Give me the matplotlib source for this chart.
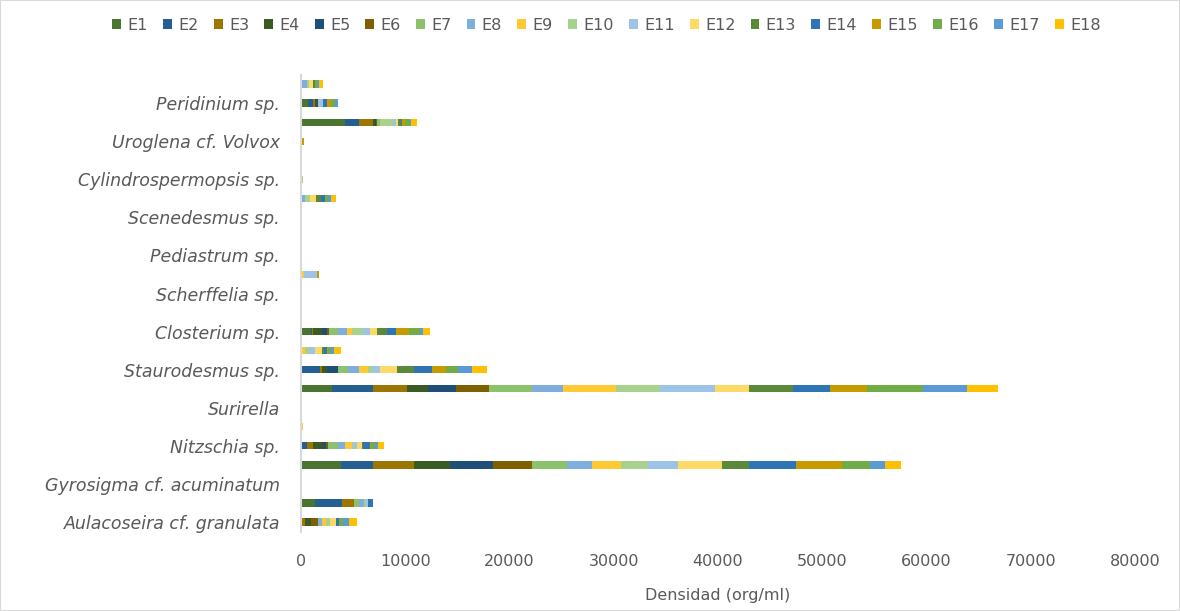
import numpy as np
import matplotlib.pyplot as plt
from matplotlib.patches import Rectangle

# categories from bottom to top; Excel only showed every other label
categories = ['Aulacoseira cf. granulata', '', 'Gyrosigma cf. acuminatum', '',
              'Nitzschia sp.', '', 'Surirella', '', 'Staurodesmus sp.', '',
              'Closterium sp.', '', 'Scherffelia sp.', '', 'Pediastrum sp.', '',
              'Scenedesmus sp.', '', 'Cylindrospermopsis sp.', '',
              'Uroglena cf. Volvox', '', 'Peridinium sp.', '']

series_names = ['E%d' % i for i in range(1, 19)]

E1 = [0, 1340, 0, 3840, 0, 0, 0, 3000, 0, 0, 960, 0, 0, 0, 0, 0, 0, 0, 0, 0, 0, 4220, 700, 0]
E2 = [0, 2560, 0, 3100, 600, 0, 0, 3930, 1820, 0, 90, 0, 0, 0, 0, 0, 0, 0, 0, 0, 0, 1340, 420, 0]
E3 = [380, 1180, 0, 3930, 580, 0, 0, 3260, 190, 150, 100, 0, 0, 0, 0, 0, 0, 0, 0, 0, 0, 1370, 220, 0]
E4 = [550, 0, 0, 3420, 900, 0, 0, 2010, 480, 0, 835, 0, 0, 0, 0, 0, 0, 0, 0, 0, 0, 170, 160, 0]
E5 = [0, 0, 0, 4100, 320, 0, 0, 2660, 1030, 0, 505, 0, 0, 0, 0, 0, 0, 0, 0, 0, 0, 90, 160, 0]
E6 = [730, 0, 0, 3770, 220, 0, 0, 3190, 30, 0, 225, 0, 0, 0, 0, 0, 0, 0, 0, 0, 0, 130, 0, 0]
E7 = [0, 510, 0, 3390, 960, 0, 0, 4070, 1000, 0, 860, 0, 0, 0, 0, 0, 0, 0, 0, 0, 0, 260, 0, 0]
E8 = [330, 450, 0, 2340, 640, 0, 0, 3030, 1010, 0, 865, 0, 0, 0, 0, 0, 0, 380, 0, 0, 0, 0, 0, 550]
E9 = [410, 0, 0, 2780, 640, 200, 0, 5050, 860, 230, 450, 0, 0, 250, 0, 0, 0, 0, 0, 0, 0, 0, 0, 0]
E10 = [380, 190, 0, 2590, 130, 0, 0, 4220, 510, 380, 1085, 0, 0, 0, 0, 0, 0, 480, 160, 0, 0, 1280, 0, 260]
E11 = [0, 220, 0, 2880, 350, 0, 0, 5280, 670, 600, 640, 0, 0, 1250, 0, 0, 0, 0, 0, 0, 0, 260, 420, 0]
E12 = [580, 0, 0, 4250, 510, 0, 0, 3260, 1570, 650, 700, 0, 0, 0, 0, 0, 0, 580, 0, 0, 0, 220, 0, 320]
E13 = [0, 0, 0, 2610, 125, 0, 0, 4190, 1660, 200, 960, 0, 0, 0, 0, 0, 0, 450, 0, 0, 0, 260, 0, 200]
E14 = [320, 480, 0, 4450, 640, 0, 0, 3580, 1700, 300, 865, 0, 0, 0, 0, 0, 0, 410, 0, 0, 0, 100, 440, 0]
E15 = [0, 0, 0, 4450, 100, 0, 0, 3580, 1410, 100, 1245, 0, 0, 250, 0, 0, 0, 0, 0, 0, 300, 290, 330, 0]
E16 = [380, 0, 0, 2680, 380, 0, 0, 5370, 1170, 250, 1025, 0, 0, 0, 0, 0, 0, 300, 0, 0, 0, 480, 410, 240]
E17 = [580, 0, 0, 1440, 320, 0, 0, 4160, 1290, 320, 315, 0, 0, 0, 0, 0, 0, 250, 0, 0, 0, 100, 320, 190]
E18 = [700, 0, 0, 1530, 550, 0, 0, 3030, 1490, 620, 640, 0, 0, 0, 0, 0, 0, 510, 0, 0, 0, 600, 0, 380]

series = [E1, E2, E3, E4, E5, E6, E7, E8, E9, E10, E11, E12, E13, E14, E15, E16, E17, E18]

colors = ['#4A7530', '#255E91', '#9C7600', '#3A5B24', '#1F4E79', '#7F6000',
          '#8DC26C', '#7DAEDE', '#FFC933', '#A9D18E', '#9DC3E6', '#FFD966',
          '#5A8A39', '#2E75B6', '#C79A00', '#70AD47', '#5B9BD5', '#FFC000']

x_ticks = [0, 10000, 20000, 30000, 40000, 50000, 60000, 70000, 80000]

text_color = '#595959'

fig = plt.figure(figsize=(11.8, 6.11), dpi=100)
ax = fig.add_axes([0.255, 0.13, 0.707, 0.748])

y = np.arange(len(categories))
left = np.zeros(len(categories))
for name, vals, col in zip(series_names, series, colors):
    vals = np.array(vals, dtype=float)
    ax.barh(y, vals, left=left, height=0.38, color=col, label=name, linewidth=0)
    left += vals

ax.set_ylim(-0.5, len(categories) - 0.5)
ax.set_xlim(0, 80000)
ax.set_xticks(x_ticks)
ax.set_xticklabels([str(t) for t in x_ticks], fontsize=11.5, color=text_color)
ax.set_yticks(y)
ax.set_yticklabels(categories, fontsize=12.5, color=text_color, style='italic')
ax.tick_params(axis='both', length=0)
ax.tick_params(axis='y', pad=15)
ax.tick_params(axis='x', pad=16)

for s in ['top', 'right', 'bottom']:
    ax.spines[s].set_visible(False)
ax.spines['left'].set_color('#D9D9D9')
ax.spines['left'].set_linewidth(1.5)

ax.set_xlabel('Densidad (org/ml)', fontsize=11.5, color=text_color, labelpad=14)

fig.legend(loc='center', bbox_to_anchor=(0.514, 0.959), ncol=18, frameon=False,
           fontsize=11.5, handlelength=0.55, handleheight=0.55, handletextpad=0.4,
           columnspacing=0.95, labelcolor=text_color)

fig.patches.append(Rectangle((0, 0), 1, 1, transform=fig.transFigure, fill=False,
                             edgecolor='#D9D9D9', linewidth=1.5))

fig.savefig('out.png', dpi=100)
